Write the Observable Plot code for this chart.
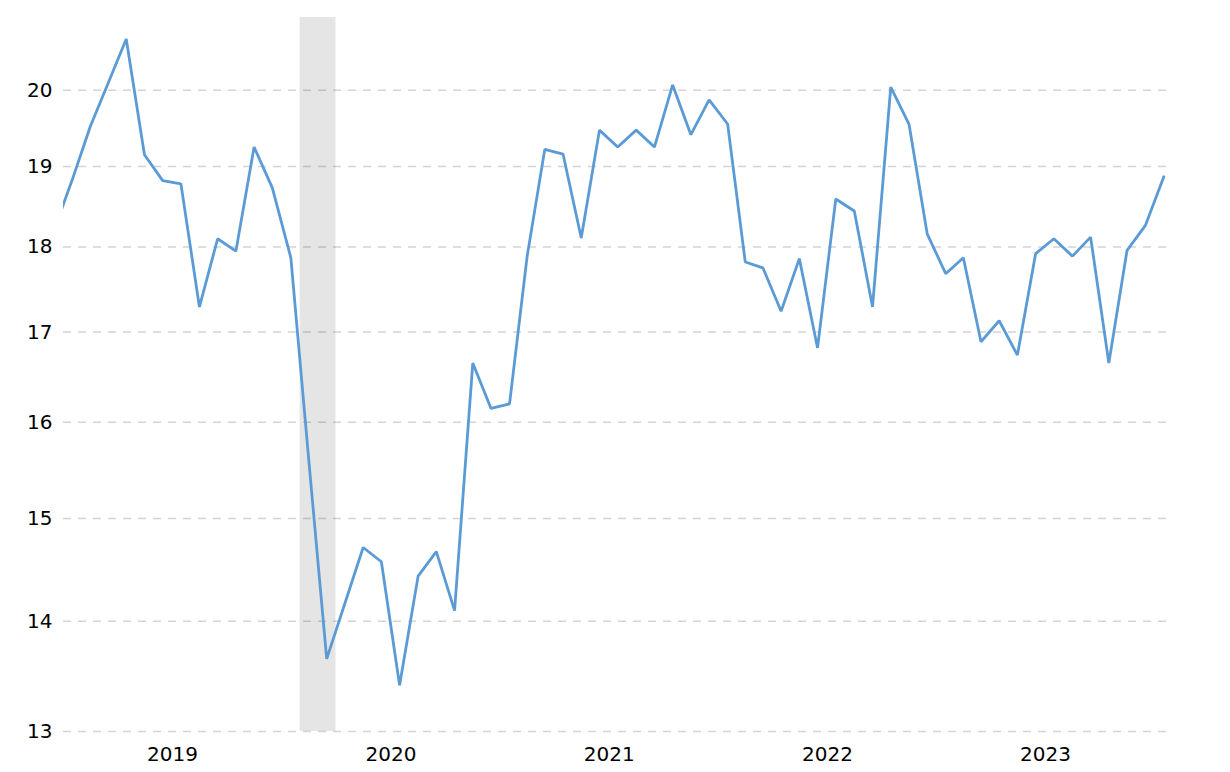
<!DOCTYPE html>
<html>
<head>
<meta charset="utf-8">
<script src="https://cdn.jsdelivr.net/npm/d3@7"></script>
<script src="https://cdn.jsdelivr.net/npm/@observablehq/plot@0.6"></script>
<style>
  html, body { margin: 0; padding: 0; background: #fff; }
  #chart svg { display: block; }
</style>
</head>
<body>
<div id="chart"></div>
<script>
// Monthly observations (plotted at mid-month)
const months = [
  "2018-12",
  "2019-01","2019-02","2019-03","2019-04","2019-05","2019-06","2019-07","2019-08","2019-09","2019-10","2019-11","2019-12",
  "2020-01","2020-02","2020-03","2020-04","2020-05","2020-06","2020-07","2020-08","2020-09","2020-10","2020-11","2020-12",
  "2021-01","2021-02","2021-03","2021-04","2021-05","2021-06","2021-07","2021-08","2021-09","2021-10","2021-11","2021-12",
  "2022-01","2022-02","2022-03","2022-04","2022-05","2022-06","2022-07","2022-08","2022-09","2022-10","2022-11","2022-12",
  "2023-01","2023-02","2023-03","2023-04","2023-05","2023-06","2023-07","2023-08","2023-09","2023-10","2023-11","2023-12",
  "2024-01"
];
const values = [
  18.21,
  18.85, 19.52, 20.09, 20.70, 19.15, 18.82, 18.78, 17.29, 18.10, 17.95, 19.25, 18.73,
  17.87, 15.60, 13.65, 14.17, 14.71, 14.57, 13.41, 14.43, 14.67, 14.10, 16.65, 16.15,
  16.20, 17.89, 19.22, 19.16, 18.11, 19.47, 19.25, 19.47, 19.25, 20.07, 19.41, 19.87,
  19.55, 17.82, 17.75, 17.24, 17.86, 16.82, 18.59, 18.44, 17.29, 20.04, 19.55, 18.16,
  17.68, 17.87, 16.89, 17.13, 16.74, 17.92, 18.10, 17.89, 18.12, 16.65, 17.96, 18.26,
  18.87
];
const yTicks = [13, 14, 15, 16, 17, 18, 19, 20];
const years = [2019, 2020, 2021, 2022, 2023];
const recession = [{start: "2020-02-01", end: "2020-04-01"}];
const xDomain = ["2019-01-01", "2024-01-21"];
const yDomain = [13, 21];

// Build table
const midMonth = (s) => {
  const a = new Date(s + "-01T00:00:00Z");
  const b = d3.utcMonth.offset(a, 1);
  return new Date((+a + +b) / 2);
};
const data = months.map((m, i) => ({date: midMonth(m), value: values[i]}));
const yearTicks = years.map(y => {
  const a = new Date(Date.UTC(y, 0, 1)), b = new Date(Date.UTC(y + 1, 0, 1));
  return new Date((+a + +b) / 2);
});
const bands = recession.map(r => ({x1: new Date(r.start), x2: new Date(r.end)}));

const chart = Plot.plot({
  width: 1230,
  height: 772,
  marginLeft: 63,
  marginRight: 64,
  marginTop: 17,
  marginBottom: 41,
  style: {fontFamily: "'DejaVu Sans', Verdana, sans-serif", fontSize: "20px", color: "#000", background: "#fff"},
  x: {type: "utc", domain: xDomain.map(d => new Date(d + "T00:00:00Z"))},
  y: {type: "log", domain: yDomain},
  marks: [
    Plot.gridY(yTicks, {stroke: "#d4d4d4", strokeOpacity: 1, strokeWidth: 1.5, strokeDasharray: "8,7"}),
    Plot.rect(bands, {x1: "x1", x2: "x2", fill: "#000", fillOpacity: 0.1}),
    Plot.line(data, {x: "date", y: "value", stroke: "#5b9bd5", strokeWidth: 2.8, strokeLinejoin: "miter", clip: true}),
    Plot.axisY(yTicks, {tickSize: 0, tickPadding: 11, tickFormat: d => String(d), fill: "#000", fontSize: 20, label: null}),
    Plot.axisX(yearTicks, {tickSize: 0, tickPadding: 15, tickFormat: d => String(d.getUTCFullYear()), fill: "#000", fontSize: 20, label: null})
  ]
});
document.getElementById("chart").appendChild(chart);
</script>
</body>
</html>
